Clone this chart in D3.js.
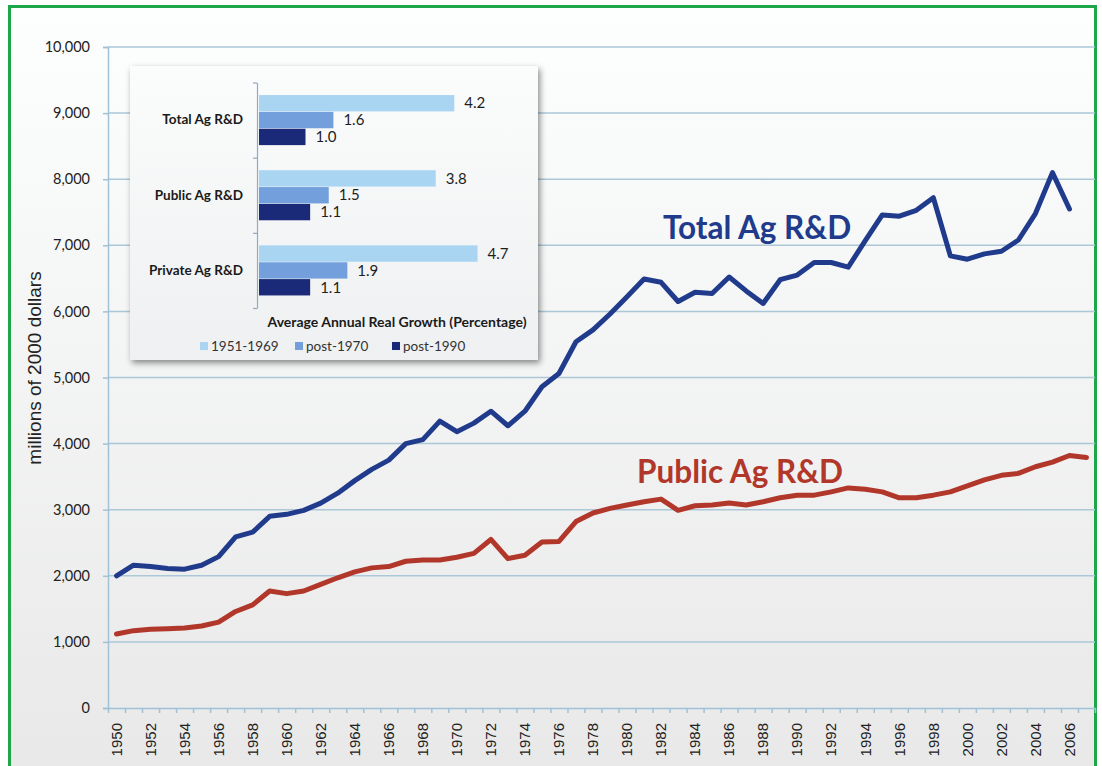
<!DOCTYPE html>
<html>
<head>
    <title>Ag R&amp;D</title>
</head>
<style>
    body { margin: 0; background: #fff; }
</style>
<body>
<svg width="1102" height="766"></svg>
<script src="https://d3js.org/d3.v7.min.js"></script>
<script>
// years on the category axis (2007 has public data only, no label)
var years = d3.range(1950, 2008);

// millions of 2000 dollars
var totalAg = [2000, 2160, 2140, 2110, 2100, 2160, 2290, 2590, 2660, 2900,
    2930, 2990, 3100, 3250, 3440, 3610, 3750, 4000, 4060, 4340,
    4180, 4310, 4490, 4270, 4490, 4860, 5060, 5540, 5720, 5960,
    6220, 6490, 6440, 6150, 6290, 6270, 6520, 6310, 6120, 6480,
    6550, 6740, 6740, 6670, 7070, 7460, 7440, 7530, 7720, 6840,
    6790, 6870, 6910, 7080, 7480, 8100, 7550];

var publicAg = [1120, 1170, 1190, 1200, 1210, 1240, 1300, 1460, 1560, 1770,
    1730, 1770, 1870, 1970, 2060, 2120, 2140, 2220, 2240, 2240,
    2280, 2340, 2550, 2260, 2310, 2510, 2520, 2820, 2950, 3020,
    3070, 3120, 3160, 2990, 3060, 3070, 3100, 3070, 3120, 3180,
    3220, 3220, 3270, 3330, 3310, 3270, 3180, 3180, 3220, 3270,
    3360, 3450, 3520, 3550, 3650, 3720, 3820, 3790];

var yTicks = d3.range(0, 10001, 1000);

// inset: average annual real growth (%)
var insetGroups = ["Total Ag R&D", "Public Ag R&D", "Private Ag R&D"];
var periods = ["1951-1969", "post-1970", "post-1990"];
var growthTotal = [4.2, 1.6, 1.0];
var growthPublic = [3.8, 1.5, 1.1];
var growthPrivate = [4.7, 1.9, 1.1];

var svg = d3.select("svg");
var defs = svg.append("defs");

var bg = defs.append("linearGradient").attr("id", "bg")
    .attr("x1", 0).attr("y1", 0).attr("x2", 0).attr("y2", 1);
bg.append("stop").attr("offset", "0%").attr("stop-color", "#fdfefe");
bg.append("stop").attr("offset", "100%").attr("stop-color", "#e8e8e8");

var boxBg = defs.append("linearGradient").attr("id", "boxbg")
    .attr("x1", 0).attr("y1", 0).attr("x2", 0).attr("y2", 1);
boxBg.append("stop").attr("offset", "0%").attr("stop-color", "#fbfcfc");
boxBg.append("stop").attr("offset", "100%").attr("stop-color", "#eef0f1");

var shadow = defs.append("filter").attr("id", "shadow")
    .attr("x", "-10%").attr("y", "-10%").attr("width", "125%").attr("height", "130%");
shadow.append("feDropShadow")
    .attr("dx", 2).attr("dy", 3).attr("stdDeviation", 3)
    .attr("flood-color", "#000").attr("flood-opacity", 0.45);

// frame
svg.append("rect")
    .attr("x", 9.5).attr("y", 6.5)
    .attr("width", 1086).attr("height", 780)
    .attr("fill", "url(#bg)")
    .attr("stroke", "#1ea64b")
    .attr("stroke-width", 3);

var plotLeft = 108, plotRight = 1095, plotTop = 47, plotBottom = 708;

var x = d3.scaleBand().domain(years).range([plotLeft, plotRight]);
var bw = x.bandwidth();
var y = d3.scaleLinear().domain([0, 10000]).range([plotBottom, plotTop]);

// grid
svg.append("g").selectAll("line")
    .data(yTicks.slice(1))
    .enter().append("line")
    .attr("x1", plotLeft).attr("x2", plotRight)
    .attr("y1", d => y(d)).attr("y2", d => y(d))
    .attr("stroke", "#abc7d8")
    .attr("stroke-width", 1.5);

// y axis
var gY = svg.append("g")
    .attr("transform", "translate(" + plotLeft + ",0)")
    .call(d3.axisLeft(y).tickValues(yTicks).tickFormat(d3.format(",")).tickSize(5).tickPadding(13));
gY.select(".domain").attr("stroke", "#9fc2d8").attr("stroke-width", 1.5);
gY.selectAll(".tick line").attr("stroke", "#9fc2d8").attr("stroke-width", 1.5);
gY.selectAll("text")
    .style("font-family", "Lato, sans-serif")
    .style("font-size", "14.5px")
    .style("fill", "#222");

// x axis: boundary ticks
var xb = d3.scaleLinear().domain([1949.5, 2007.5]).range([plotLeft, plotRight]);
var gX = svg.append("g")
    .attr("transform", "translate(0," + plotBottom + ")")
    .call(d3.axisBottom(xb).tickValues(d3.range(1949.5, 2008, 1)).tickFormat("").tickSize(5).tickSizeOuter(0));
gX.select(".domain").attr("stroke", "#9fc2d8").attr("stroke-width", 1.5);
gX.selectAll(".tick line").attr("stroke", "#9fc2d8").attr("stroke-width", 1.5);

// x labels every other year
var gXL = svg.append("g")
    .attr("transform", "translate(0," + plotBottom + ")")
    .call(d3.axisBottom(x).tickValues(years.filter(d => d % 2 === 0 && d <= 2006)).tickSize(0));
gXL.select(".domain").remove();
gXL.selectAll("text")
    .style("font-family", "'Liberation Sans', Arial, sans-serif")
    .style("font-size", "15px")
    .style("fill", "#222")
    .attr("x", -15).attr("y", 0).attr("dy", "0.35em")
    .attr("transform", "rotate(-90)")
    .style("text-anchor", "end");

// y title
svg.append("text")
    .attr("transform", "translate(41,368) rotate(-90)")
    .attr("text-anchor", "middle")
    .style("font-family", "'Liberation Sans', Arial, sans-serif")
    .style("font-size", "19px")
    .style("fill", "#222")
    .text("millions of 2000 dollars");

// lines
var line = d3.line()
    .x((d, i) => x(years[i]) + bw / 2)
    .y(d => y(d));

svg.append("path")
    .attr("d", line(publicAg))
    .attr("fill", "none")
    .attr("stroke", "#b2372b")
    .attr("stroke-width", 5)
    .attr("stroke-linejoin", "round")
    .attr("stroke-linecap", "round");

svg.append("path")
    .attr("d", line(totalAg))
    .attr("fill", "none")
    .attr("stroke", "#203b8b")
    .attr("stroke-width", 5)
    .attr("stroke-linejoin", "round")
    .attr("stroke-linecap", "round");

svg.append("text")
    .attr("x", 757).attr("y", 239)
    .attr("text-anchor", "middle")
    .style("font-family", "Lato, sans-serif")
    .style("font-weight", "bold")
    .style("font-size", "31.5px")
    .style("fill", "#203b8b")
    .text("Total Ag R&D");

svg.append("text")
    .attr("x", 740).attr("y", 483)
    .attr("text-anchor", "middle")
    .style("font-family", "Lato, sans-serif")
    .style("font-weight", "bold")
    .style("font-size", "31.5px")
    .style("fill", "#b2372b")
    .text("Public Ag R&D");

// ---- inset bar chart ----
svg.append("rect")
    .attr("x", 130).attr("y", 66)
    .attr("width", 408).attr("height", 294)
    .attr("fill", "url(#boxbg)")
    .attr("filter", "url(#shadow)");

var growth = [growthTotal, growthPublic, growthPrivate];
var barColors = ["#a9d5f3", "#73a0dc", "#1b2a78"];

var yi = d3.scaleBand().domain(insetGroups).range([82.5, 308])
    .paddingInner(0.334).paddingOuter(0.167);
var yp = d3.scaleBand().domain(periods).range([0, yi.bandwidth()]).paddingInner(0.03);
var xi = d3.scaleLinear().domain([0, 5]).range([259, 491.5]);

var groups = svg.append("g").selectAll("g")
    .data(insetGroups)
    .enter().append("g")
    .attr("transform", d => "translate(0," + yi(d) + ")");

groups.selectAll("rect")
    .data((d, i) => growth[i].map((v, j) => ({ p: periods[j], v: v, c: barColors[j] })))
    .enter().append("rect")
    .attr("x", xi(0))
    .attr("y", d => yp(d.p))
    .attr("width", d => xi(d.v) - xi(0))
    .attr("height", yp.bandwidth())
    .attr("fill", d => d.c);

groups.selectAll("text")
    .data((d, i) => growth[i].map((v, j) => ({ p: periods[j], v: v })))
    .enter().append("text")
    .attr("x", d => xi(d.v) + 10)
    .attr("y", d => yp(d.p) + yp.bandwidth() / 2)
    .attr("dy", "0.35em")
    .style("font-family", "Lato, sans-serif")
    .style("font-size", "15px")
    .style("fill", "#1e1e1e")
    .text(d => d3.format(".1f")(d.v));

// inset axis: labels, then boundary ticks
var gI = svg.append("g")
    .attr("transform", "translate(257,0)")
    .call(d3.axisLeft(yi).tickSize(0).tickPadding(14));
gI.select(".domain").remove();
gI.selectAll("text")
    .style("font-family", "Lato, sans-serif")
    .style("font-size", "13.5px")
    .style("font-weight", "bold")
    .style("fill", "#1a1a1a");

var yib = d3.scaleLinear().domain([0, 3]).range([82.5, 308]);
var gIb = svg.append("g")
    .attr("transform", "translate(257,0)")
    .call(d3.axisLeft(yib).tickValues([0, 1, 2, 3]).tickFormat("").tickSize(4).tickSizeOuter(0));
gIb.select(".domain").attr("stroke", "#8eaac4").attr("stroke-width", 1.2);
gIb.selectAll(".tick line").attr("stroke", "#8eaac4").attr("stroke-width", 1.2);

svg.append("text")
    .attr("x", 397).attr("y", 327)
    .attr("text-anchor", "middle")
    .style("font-family", "Lato, sans-serif")
    .style("font-weight", "bold")
    .style("font-size", "14px")
    .style("fill", "#1a1a1a")
    .text("Average Annual Real Growth (Percentage)");

// legend
var legendX = [200, 295, 392];
var legend = svg.append("g").selectAll("g")
    .data(periods)
    .enter().append("g")
    .attr("transform", (d, i) => "translate(" + legendX[i] + ",346)");
legend.append("rect")
    .attr("x", 0).attr("y", -4)
    .attr("width", 8).attr("height", 8)
    .attr("fill", (d, i) => barColors[i]);
legend.append("text")
    .attr("x", 11).attr("dy", "0.35em")
    .style("font-family", "Lato, sans-serif")
    .style("font-size", "13.5px")
    .style("fill", "#333")
    .text(d => d);
</script>
</body>
</html>
